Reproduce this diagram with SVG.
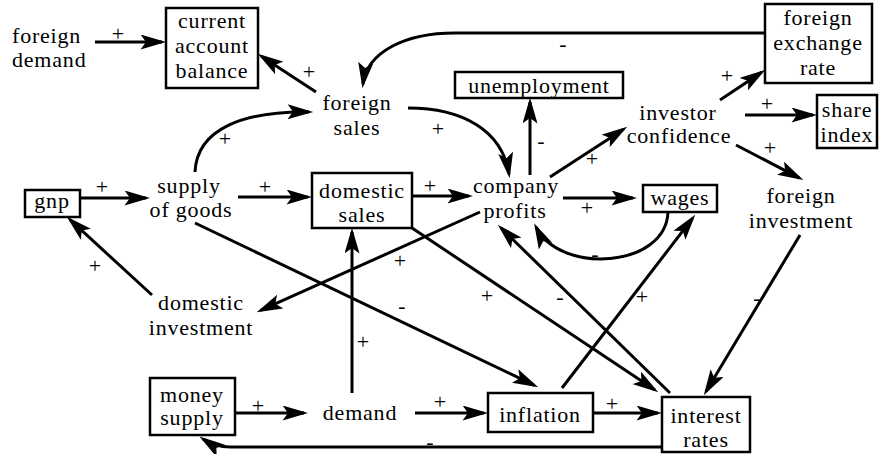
<svg xmlns="http://www.w3.org/2000/svg" width="883" height="454" viewBox="0 0 883 454">
<defs>
<style>
text{fill:#000;text-anchor:middle}
.t{font-size:22px;letter-spacing:0.8px}
.s{font-size:22px}
.b{fill:#fff;stroke:#000;stroke-width:2.5}
.c{fill:none;stroke:#000;stroke-width:3;marker-end:url(#ah)}
</style>
<marker id="ah" viewBox="0 0 24 14" refX="20" refY="7" markerWidth="26" markerHeight="15" markerUnits="userSpaceOnUse" orient="auto">
<path d="M0,0 L24,7 L0,14 L5,7 z" fill="#000"/>
</marker>
</defs>
<rect width="883" height="454" fill="#fff"/>
<g font-family="Liberation Serif, Tinos, Noto Serif, DejaVu Serif, Times New Roman, Times, FreeSerif, serif">
<g id="connectors">
<path class="c" d="M95 42 L162 42"/>
<path class="c" d="M316 92 L261.3 56.2"/>
<path class="c" d="M195 172 C197 128 245 111 309 112"/>
<path class="c" d="M765 33 L455 33 C405 33 367 52 363 84"/>
<path class="c" d="M408 108 C462 108 502 130 509 174"/>
<path class="c" d="M530 175 L530 102"/>
<path class="c" d="M550 177 L623.6 129.2"/>
<path class="c" d="M563 198 L633 198"/>
<path class="c" d="M720 100 L761.7 72.2"/>
<path class="c" d="M745 115 L813 115"/>
<path class="c" d="M736 145 L799.5 178.1"/>
<path class="c" d="M80 198 L146 198"/>
<path class="c" d="M238 197 L308 197"/>
<path class="c" d="M412 196 L469 196"/>
<path class="c" d="M195 223 L534.4 385.3"/>
<path class="c" d="M152 295 L70 219.7"/>
<path class="c" d="M480 212 L260.6 310.4"/>
<path class="c" d="M412 228 L654.7 389.8"/>
<path class="c" d="M670 393 L500.9 227.8"/>
<path class="c" d="M352 393 L352 232"/>
<path class="c" d="M668 212 C666 268 560 275 536 227"/>
<path class="c" d="M562 388 L692.6 218.2"/>
<path class="c" d="M800 235 L706 391.5"/>
<path class="c" d="M235 413 L304 413"/>
<path class="c" d="M415 413 L484 413"/>
<path class="c" d="M593 413 L658 413"/>
<path class="c" d="M662 447 L230 447 Q215 447 203 439"/>
<g id="polarities">
<text class="s" x="118" y="41">+</text>
<text class="s" x="309" y="79">+</text>
<text class="s" x="225" y="146">+</text>
<text class="s" x="563" y="51">-</text>
<text class="s" x="438" y="136">+</text>
<text class="s" x="541" y="148">-</text>
<text class="s" x="592" y="166">+</text>
<text class="s" x="587" y="215">+</text>
<text class="s" x="727" y="83">+</text>
<text class="s" x="767" y="111">+</text>
<text class="s" x="770" y="155">+</text>
<text class="s" x="102" y="194">+</text>
<text class="s" x="265" y="194">+</text>
<text class="s" x="430" y="193">+</text>
<text class="s" x="95" y="273">+</text>
<text class="s" x="400" y="268">+</text>
<text class="s" x="402" y="313">-</text>
<text class="s" x="487" y="303">+</text>
<text class="s" x="560" y="304">-</text>
<text class="s" x="363" y="349">+</text>
<text class="s" x="595" y="261">-</text>
<text class="s" x="642" y="304">+</text>
<text class="s" x="757" y="305">-</text>
<text class="s" x="258" y="413">+</text>
<text class="s" x="440" y="409">+</text>
<text class="s" x="612" y="411">+</text>
<text class="s" x="430" y="449">-</text>
</g>
</g>
<g id="foreign-demand"><text class="t" x="12" y="43" style="text-anchor:start">foreign</text><text class="t" x="12" y="67" style="text-anchor:start">demand</text></g>
<g id="current-account-balance"><rect class="b" x="166" y="8" width="92" height="80"/><text class="t" x="212" y="28">current</text><text class="t" x="212" y="53">account</text><text class="t" x="212" y="78">balance</text></g>
<g id="foreign-sales"><text class="t" x="357" y="110">foreign</text><text class="t" x="357" y="135">sales</text></g>
<g id="unemployment"><rect class="b" x="455" y="72" width="168" height="26"/><text class="t" x="539" y="93">unemployment</text></g>
<g id="foreign-exchange-rate"><rect class="b" x="765" y="4" width="107" height="79"/><text class="t" x="818" y="25">foreign</text><text class="t" x="818" y="50">exchange</text><text class="t" x="818" y="75">rate</text></g>
<g id="investor-confidence"><text class="t" x="678" y="120">investor</text><text class="t" x="679" y="143">confidence</text></g>
<g id="share-index"><rect class="b" x="817" y="95" width="60" height="53"/><text class="t" x="847" y="117">share</text><text class="t" x="847" y="142">index</text></g>
<g id="gnp"><rect class="b" x="25" y="190" width="55" height="27"/><text class="t" x="52" y="208">gnp</text></g>
<g id="supply-of-goods"><text class="t" x="189" y="193">supply</text><text class="t" x="191" y="217">of goods</text></g>
<g id="domestic-sales"><rect class="b" x="312" y="173" width="100" height="55"/><text class="t" x="362" y="198">domestic</text><text class="t" x="362" y="222">sales</text></g>
<g id="company-profits"><text class="t" x="516" y="193">company</text><text class="t" x="515" y="218">profits</text></g>
<g id="wages"><rect class="b" x="643" y="185" width="74" height="27"/><text class="t" x="680" y="205">wages</text></g>
<g id="foreign-investment"><text class="t" x="801" y="203">foreign</text><text class="t" x="801" y="228">investment</text></g>
<g id="domestic-investment"><text class="t" x="201" y="310">domestic</text><text class="t" x="201" y="335">investment</text></g>
<g id="money-supply"><rect class="b" x="150" y="378" width="85" height="57"/><text class="t" x="192" y="402">money</text><text class="t" x="192" y="425">supply</text></g>
<g id="demand"><text class="t" x="360" y="420">demand</text></g>
<g id="inflation"><rect class="b" x="488" y="393" width="105" height="39"/><text class="t" x="540" y="422">inflation</text></g>
<g id="interest-rates"><rect class="b" x="662" y="397" width="88" height="55"/><text class="t" x="706" y="423">interest</text><text class="t" x="706" y="447">rates</text></g>
</g>
</svg>
